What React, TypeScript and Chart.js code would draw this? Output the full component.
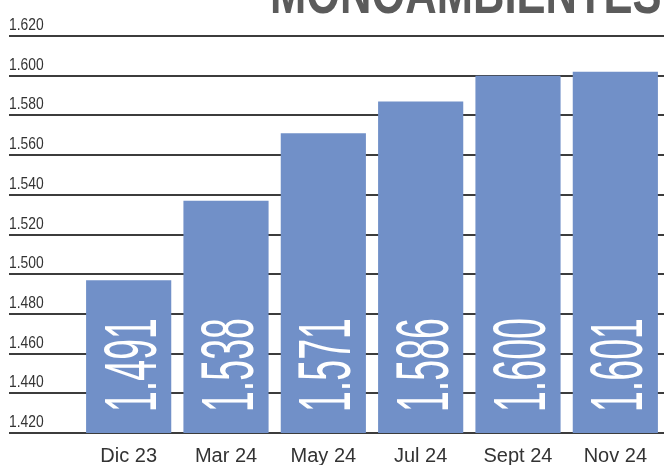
import React, { useEffect, useRef } from "react";
import { Chart, registerables } from "chart.js";

Chart.register(...registerables);

const categories = ["Dic 23", "Mar 24", "May 24", "Jul 24", "Sept 24", "Nov 24"];
const values = [1497, 1537, 1571, 1587, 1600, 1602];
const barLabels = ["1.491", "1.538", "1.571", "1.586", "1.600", "1.601"];
const yMin = 1420;
const yMax = 1620;
const yStep = 20;
const title = "MONOAMBIENTES";

const fmt = (v: number) => {
  const s = String(Math.round(v));
  return s.slice(0, s.length - 3) + "." + s.slice(s.length - 3);
};

const overlayPlugin = {
  id: "overlay",
  afterDatasetsDraw(chart: any) {
    const ctx = chart.ctx as CanvasRenderingContext2D;
    const yScale = chart.scales.y;
    // y tick labels: condensed, sitting above each grid line at the far left
    yScale.ticks.forEach((t: any) => {
      const py = yScale.getPixelForValue(t.value);
      ctx.save();
      ctx.translate(yScale.left, py - 6);
      ctx.scale(0.84, 1);
      ctx.fillStyle = "#333333";
      ctx.font = "16.5px 'Liberation Sans', Arial, sans-serif";
      ctx.textAlign = "left";
      ctx.textBaseline = "alphabetic";
      ctx.fillText(fmt(t.value), 0, 0);
      ctx.restore();
    });
    const meta = chart.getDatasetMeta(0);
    const yBase = yScale.getPixelForValue(yMin) - 21;
    meta.data.forEach((bar: any, i: number) => {
      ctx.save();
      ctx.translate(bar.x, yBase);
      ctx.rotate(-Math.PI / 2);
      ctx.scale(0.5, 1);
      ctx.fillStyle = "#ffffff";
      ctx.font = "75px 'Liberation Sans', Arial, sans-serif";
      ctx.textAlign = "left";
      ctx.textBaseline = "alphabetic";
      ctx.fillText(barLabels[i], 0, 27);
      ctx.restore();
    });
    // title, cut by the top edge
    ctx.save();
    ctx.translate(270, 12.5);
    ctx.scale(0.75, 1);
    ctx.fillStyle = "#5b5b5b";
    ctx.font = "bold 58px 'Liberation Sans', Arial, sans-serif";
    ctx.textAlign = "left";
    ctx.textBaseline = "alphabetic";
    ctx.fillText(title, 0, 0);
    ctx.restore();
  },
};

export default function App() {
  const ref = useRef<HTMLCanvasElement | null>(null);
  useEffect(() => {
    document.body.style.margin = "0";
    const canvas = ref.current!;
    const chart = new Chart(canvas, {
      type: "bar",
      data: {
        labels: categories,
        datasets: [
          {
            data: values,
            backgroundColor: "#7190c8",
            borderWidth: 0,
            barPercentage: 0.875,
            categoryPercentage: 1,
          },
        ],
      },
      options: {
        animation: false,
        responsive: false,
        maintainAspectRatio: false,
        layout: { padding: { left: 9, right: 0, top: 36, bottom: 0 } },
        plugins: {
          legend: { display: false },
          tooltip: { enabled: false },
          title: { display: false },
        },
        scales: {
          x: {
            grid: { display: false, drawTicks: false },
            border: { display: false },
            afterFit: (s: any) => {
              s.height = 32;
            },
            ticks: {
              color: "#333333",
              padding: 11,
              font: { family: "'Liberation Sans', Arial, sans-serif", size: 20 },
            },
          },
          y: {
            min: yMin,
            max: yMax,
            border: { display: false },
            grid: {
              color: "#3c3c3c",
              lineWidth: 2,
              drawTicks: true,
              tickLength: 71,
              tickColor: "#3c3c3c",
              tickWidth: 2,
            },
            afterFit: (s: any) => {
              s.width = 71;
            },
            ticks: {
              stepSize: yStep,
              display: false,
            },
          },
        },
      },
      plugins: [overlayPlugin],
    });
    return () => chart.destroy();
  }, []);
  return <canvas ref={ref} width={664} height={465} style={{ display: "block" }} />;
}
